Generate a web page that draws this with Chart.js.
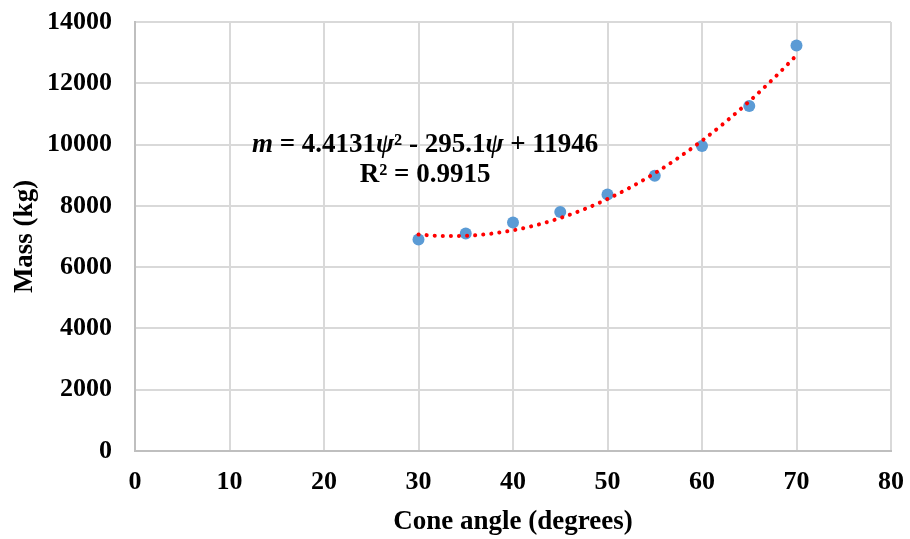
<!DOCTYPE html>
<html>
<head>
<meta charset="utf-8">
<script src="https://cdn.jsdelivr.net/npm/chart.js@4/dist/chart.umd.min.js"></script>
<style>
  html, body { margin: 0; padding: 0; background: #fff; }
  #wrap { width: 910px; height: 539px; }
</style>
</head>
<body>
<div id="wrap"><canvas id="c" width="910" height="539"></canvas></div>
<script>
// Observed data (cone angle in degrees, mass in kg)
const coneAngles = [30, 35, 40, 45, 50, 55, 60, 65, 70];
const massValues = [6900, 7100, 7460, 7800, 8370, 8980, 9950, 11260, 13230];

// Polynomial trendline values
const trendAngles = [30, 32.5, 35, 37.5, 40, 42.5, 45, 47.5, 50, 52.5, 55, 57.5, 60, 62.5, 65, 67.5, 70];
const trendMass = [7065, 7017, 7024, 7086, 7203, 7375, 7603, 7886, 8224, 8617, 9065, 9569, 10127, 10741, 11410, 12134, 12913];

// Axis ticks
const xTicks = [0, 10, 20, 30, 40, 50, 60, 70, 80];
const yTicks = [0, 2000, 4000, 6000, 8000, 10000, 12000, 14000];

// Annotation text
const eqLine1 = [["m", true], [" = 4.4131", false], ["\u03c8", true], ["\u00b2", false], [" - 295.1", false], ["\u03c8", true], [" + 11946", false]];
const eqLine2 = "R\u00b2 = 0.9915";
const eqAnchor = { x: 30.7, y: 9980 };

const FONT = "'Liberation Serif', 'Times New Roman', serif";

const annotationPlugin = {
  id: 'eqText',
  afterDatasetsDraw(chart) {
    const ctx = chart.ctx;
    const xs = chart.scales.x, ys = chart.scales.y;
    const cx = xs.getPixelForValue(eqAnchor.x);
    const cy = ys.getPixelForValue(eqAnchor.y);
    ctx.save();
    ctx.fillStyle = '#000';
    ctx.textBaseline = 'middle';
    ctx.textAlign = 'left';
    const fnt = (it) => (it ? 'italic ' : '') + 'bold 27px ' + FONT;
    let total = 0;
    eqLine1.forEach(([t, it]) => { ctx.font = fnt(it); total += ctx.measureText(t).width; });
    let x = cx - total / 2;
    eqLine1.forEach(([t, it]) => { ctx.font = fnt(it); ctx.fillText(t, x, cy); x += ctx.measureText(t).width; });
    ctx.font = fnt(false);
    ctx.textAlign = 'center';
    ctx.fillText(eqLine2, cx, cy + 30);
    ctx.restore();
  }
};

new Chart(document.getElementById('c'), {
  type: 'scatter',
  data: {
    datasets: [
      {
        label: 'Trend',
        data: trendAngles.map((a, i) => ({ x: a, y: trendMass[i] })),
        showLine: true,
        borderColor: '#ff0000',
        borderWidth: 4,
        borderDash: [0.1, 8],
        borderCapStyle: 'round',
        pointRadius: 0,
        cubicInterpolationMode: 'monotone',
        fill: false,
        order: 1
      },
      {
        label: 'Mass',
        data: coneAngles.map((a, i) => ({ x: a, y: massValues[i] })),
        backgroundColor: '#5b9bd5',
        borderColor: '#5b9bd5',
        borderWidth: 0,
        pointRadius: 6,
        order: 2
      }
    ]
  },
  options: {
    responsive: false,
    animation: false,
    layout: { padding: { left: 0, right: 19, top: 22, bottom: 0 } },
    plugins: { legend: { display: false }, tooltip: { enabled: false } },
    scales: {
      x: {
        type: 'linear',
        min: 0, max: 80,
        afterBuildTicks(s) { s.ticks = xTicks.map(v => ({ value: v })); },
        afterFit(s) { s.height = 88; s.paddingLeft = 0; s.paddingRight = 0; },
        grid: { color: '#d9d9d9', lineWidth: 2, drawTicks: false },
        border: { color: '#bfbfbf', width: 2 },
        ticks: { color: '#000', font: { family: FONT, size: 26, weight: 'bold' }, padding: 16, maxRotation: 0, callback: v => String(v) },
        title: { display: true, text: 'Cone angle (degrees)', color: '#000', font: { family: FONT, size: 27, weight: 'bold' }, padding: { top: 0, bottom: 1 } }
      },
      y: {
        type: 'linear',
        min: 0, max: 14000,
        afterBuildTicks(s) { s.ticks = yTicks.map(v => ({ value: v })); },
        afterFit(s) { s.width = 135; s.paddingTop = 0; s.paddingBottom = 0; },
        grid: { color: '#d9d9d9', lineWidth: 2, drawTicks: false },
        border: { color: '#bfbfbf', width: 2 },
        ticks: { color: '#000', font: { family: FONT, size: 26, weight: 'bold' }, padding: 23, callback: v => String(v) },
        title: { display: true, text: 'Mass (kg)', color: '#000', font: { family: FONT, size: 27, weight: 'bold' }, padding: { top: 9, bottom: 0 } }
      }
    }
  },
  plugins: [annotationPlugin]
});
</script>
</body>
</html>
